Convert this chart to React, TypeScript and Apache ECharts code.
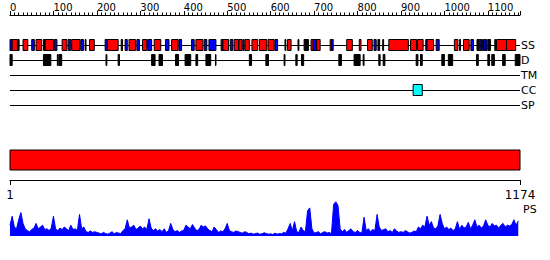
import React, { useEffect, useRef } from 'react';
import * as echarts from 'echarts';

const SEQ_LENGTH = 1174;
const rows = ['SS', 'D', 'TM', 'CC', 'SP'];

// [start, end, type] type: 0 helix (red), 1 strand (blue), 2 other (black)
const ssSegments = [
  [0, 5, 1], [5, 17, 0], [18, 21, 2], [30, 41, 0], [50, 56, 1], [60, 73, 0], [77, 81, 2], [81, 100, 0],
  [102, 108, 1], [120, 131, 0], [134, 140, 1], [142, 161, 0], [163, 169, 1], [173, 175, 2], [183, 194, 0],
  [219, 224, 1], [224, 249, 0], [256, 259, 2], [265, 270, 1], [274, 289, 0], [292, 298, 1], [305, 315, 0],
  [317, 326, 1], [332, 347, 0], [358, 366, 1], [372, 387, 0], [389, 395, 1], [418, 424, 1], [428, 444, 0],
  [447, 453, 1], [458, 474, 1], [486, 490, 1], [490, 503, 0], [507, 513, 1], [516, 526, 0], [527, 534, 0],
  [536, 539, 1], [541, 551, 0], [557, 570, 0], [574, 591, 0], [594, 608, 0], [610, 616, 1], [633, 635, 2],
  [639, 647, 0], [663, 665, 2], [677, 687, 2], [693, 698, 0], [698, 706, 1], [706, 714, 0], [737, 740, 0],
  [740, 744, 1], [775, 788, 0], [804, 808, 0], [823, 834, 0], [838, 843, 1], [847, 851, 2], [858, 860, 2],
  [872, 917, 0], [922, 936, 0], [938, 951, 0], [957, 960, 1], [960, 975, 0], [981, 988, 1], [1023, 1031, 0],
  [1035, 1037, 2], [1044, 1057, 0], [1061, 1067, 1], [1075, 1079, 2], [1080, 1084, 1], [1085, 1088, 2],
  [1090, 1094, 1], [1095, 1098, 1], [1100, 1106, 2], [1116, 1118, 2], [1120, 1143, 0], [1143, 1164, 0],
];

const disorderSegments = [
  [0, 5], [77, 94], [109, 111], [113, 119], [221, 223], [249, 252], [326, 334], [343, 351], [381, 388],
  [403, 416], [428, 432], [451, 462], [473, 474], [551, 556], [589, 595], [631, 633], [658, 661], [671, 676],
  [757, 763], [792, 806], [813, 815], [849, 852], [859, 863], [935, 939], [945, 949], [994, 1000],
  [1009, 1019], [1074, 1078], [1100, 1104], [1109, 1115], [1134, 1140], [1163, 1174],
];

const coiledCoilSegments = [[928, 949]];
const domainSegments = [[1, 1174]];
const bottomTicks = [1, 1174];

const psStep = 5;
const psValues = [
  0.3, 0.55, 0.25, 0.2, 0.45, 0.65, 0.35, 0.2, 0.15, 0.12, 0.18, 0.22, 0.35, 0.2, 0.25, 0.3, 0.18, 0.2, 0.15, 0.22,
  0.55, 0.2, 0.15, 0.22, 0.18, 0.25, 0.2, 0.15, 0.3, 0.18, 0.2, 0.15, 0.6, 0.2, 0.25, 0.12, 0.1, 0.14, 0.1, 0.12,
  0.1, 0.08, 0.06, 0.1, 0.07, 0.05, 0.08, 0.12, 0.06, 0.1, 0.08, 0.07, 0.15, 0.2, 0.45, 0.22, 0.25, 0.3, 0.18, 0.22,
  0.28, 0.2, 0.25, 0.18, 0.48, 0.22, 0.15, 0.2, 0.14, 0.18, 0.12, 0.2, 0.1, 0.15, 0.35, 0.18, 0.12, 0.15, 0.1, 0.14,
  0.16, 0.3, 0.25, 0.2, 0.32, 0.22, 0.15, 0.18, 0.3, 0.25, 0.28, 0.2, 0.15, 0.12, 0.25, 0.18, 0.1, 0.14, 0.12, 0.2,
  0.35, 0.15, 0.12, 0.1, 0.14, 0.12, 0.1, 0.08, 0.12, 0.1, 0.06, 0.08, 0.05, 0.07, 0.08, 0.05, 0.06, 0.09, 0.07, 0.05,
  0.06, 0.04, 0.08, 0.05, 0.07, 0.06, 0.1, 0.08, 0.2, 0.35, 0.15, 0.4, 0.12, 0.1, 0.25, 0.15, 0.12, 0.7, 0.78, 0.2,
  0.08, 0.1, 0.12, 0.06, 0.1, 0.12, 0.08, 0.1, 0.06, 0.88, 0.95, 0.85, 0.2, 0.12, 0.18, 0.1, 0.15, 0.2, 0.12, 0.1,
  0.15, 0.1, 0.08, 0.52, 0.15, 0.2, 0.12, 0.18, 0.15, 0.6, 0.25, 0.15, 0.18, 0.2, 0.12, 0.15, 0.1, 0.2, 0.14, 0.1,
  0.12, 0.1, 0.15, 0.12, 0.08, 0.1, 0.14, 0.12, 0.25, 0.2, 0.3, 0.25, 0.55, 0.3, 0.4, 0.22, 0.2, 0.28, 0.6, 0.35,
  0.2, 0.25, 0.18, 0.22, 0.15, 0.2, 0.4, 0.18, 0.3, 0.22, 0.25, 0.38, 0.2, 0.3, 0.45, 0.25, 0.3, 0.22, 0.28, 0.45,
  0.3, 0.25, 0.35, 0.28, 0.3, 0.22, 0.3, 0.35, 0.25, 0.3, 0.28, 0.32, 0.45, 0.3, 0.42,
];

const featureColors = ['#ff0000', '#0000ff', '#000000', '#00ffff'];
const FONT = 'DejaVu Sans';
const plain = (v: number) => String(v);

export default function App() {
  const ref = useRef<HTMLDivElement>(null);
  useEffect(() => {
    if (!ref.current) return;
    const chart = echarts.init(ref.current, null, { renderer: 'svg' });

    const featureData = [
      ...ssSegments.map((s) => [s[0], s[1], 0, s[2]]),
      ...disorderSegments.map((s) => [s[0], s[1], 1, 2]),
      ...coiledCoilSegments.map((s) => [s[0], s[1], 3, 3]),
    ];
    const psData = psValues.map((v, i) => [i * psStep, v]);

    const renderFeature = (params: any, api: any) => {
      const row = api.value(2);
      const s = api.coord([api.value(0), row]);
      const e = api.coord([api.value(1), row]);
      return {
        type: 'rect',
        shape: { x: s[0], y: s[1] - 5.5, width: Math.max(e[0] - s[0], 0.5), height: 11 },
        style: { fill: featureColors[api.value(3)], stroke: '#000', lineWidth: 1 },
      };
    };
    const renderDomain = (params: any, api: any) => {
      const s = api.coord([api.value(0), 0]);
      const e = api.coord([api.value(1), 0]);
      const top = params.coordSys.y;
      return {
        type: 'rect',
        shape: { x: s[0], y: top, width: e[0] - s[0], height: 20 },
        style: { fill: '#ff0000', stroke: '#000', lineWidth: 1 },
      };
    };

    chart.setOption({
      animation: false,
      textStyle: { fontFamily: FONT },
      grid: [
        { left: 10, right: 30, top: 45, height: 60 },
        { left: 10, right: 30, top: 150, height: 30 },
        { left: 10, right: 30, top: 200, height: 36 },
      ],
      xAxis: [
        {
          gridIndex: 0, type: 'value', position: 'top', offset: 30, min: 0, max: SEQ_LENGTH, interval: 100,
          axisLine: { show: true, lineStyle: { color: '#000', width: 1 } },
          axisTick: { show: true, length: 4, lineStyle: { color: '#000' } },
          minorTick: { show: true, splitNumber: 10, length: 2.5, lineStyle: { color: '#000' } },
          axisLabel: {
            fontSize: 10, color: '#000', margin: 3, align: 'left', showMaxLabel: false, fontFamily: FONT,
            formatter: plain,
          },
          splitLine: { show: false },
        },
        {
          gridIndex: 1, type: 'value', position: 'bottom', min: 1, max: SEQ_LENGTH,
          axisLine: { show: true, lineStyle: { color: '#000', width: 1 } },
          axisTick: { show: true, length: 5, customValues: bottomTicks, lineStyle: { color: '#000' } },
          axisLabel: {
            fontSize: 12, color: '#000', margin: 9, customValues: bottomTicks, fontFamily: FONT, formatter: plain,
          },
          splitLine: { show: false },
        },
        { gridIndex: 2, type: 'value', min: 0, max: SEQ_LENGTH, show: false },
      ],
      yAxis: [
        {
          gridIndex: 0, type: 'category', data: rows, inverse: true, boundaryGap: false, position: 'right',
          axisLine: { show: false }, axisTick: { show: false },
          axisLabel: { margin: 1, fontSize: 11, color: '#000', interval: 0, fontFamily: FONT },
          splitLine: { show: true, interval: 0, lineStyle: { color: '#000', width: 1 } },
        },
        { gridIndex: 1, type: 'value', min: 0, max: 1, show: false },
        { gridIndex: 2, type: 'value', min: 0, max: 1, show: false },
      ],
      series: [
        {
          type: 'custom', xAxisIndex: 0, yAxisIndex: 0, data: featureData, renderItem: renderFeature,
          encode: { x: [0, 1], y: 2 },
        },
        {
          type: 'custom', xAxisIndex: 1, yAxisIndex: 1, data: domainSegments, renderItem: renderDomain,
          encode: { x: [0, 1] },
        },
        {
          type: 'line', xAxisIndex: 2, yAxisIndex: 2, data: psData, symbol: 'none', showSymbol: false,
          lineStyle: { color: '#0000ff', width: 1 }, itemStyle: { color: '#0000ff' },
          areaStyle: { color: '#0000ff', opacity: 1 },
        },
      ],
      graphic: [
        { type: 'text', left: 523, top: 204, style: { text: 'PS', fontSize: 11, fill: '#000', fontFamily: FONT } },
      ],
    });
    return () => chart.dispose();
  }, []);
  return (
    <div
      ref={ref}
      style={{ position: 'fixed', left: 0, top: 0, width: 550, height: 260, background: '#fff' }}
    />
  );
}
